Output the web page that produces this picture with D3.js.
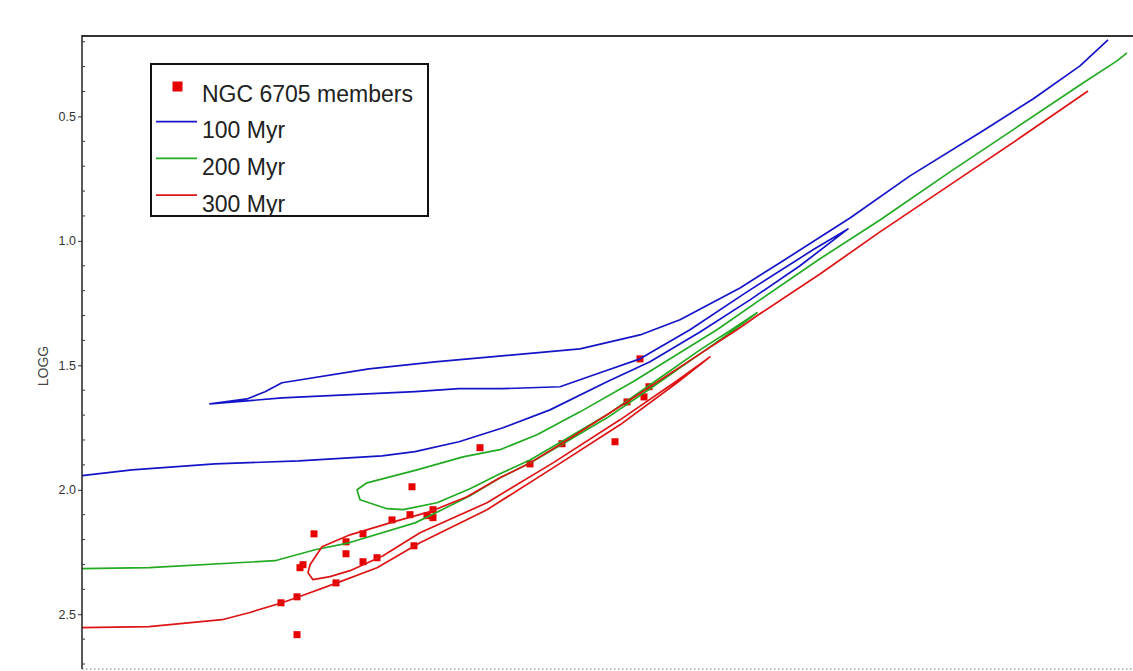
<!DOCTYPE html>
<html>
<head>
<meta charset="utf-8">
<script src="https://cdn.jsdelivr.net/npm/d3@7"></script>
<style>
  html, body { margin: 0; padding: 0; background: #fff; }
  svg { display: block; font-family: "Liberation Sans", Arial, Helvetica, sans-serif; }
</style>
</head>
<body>
<svg id="chart" width="1133" height="671"></svg>
<script>
// ---- data (Teff [K], log g) ----
const iso100 = [
  [5500,1.943],[5400,1.920],[5234,1.896],[5066,1.884],[4900,1.864],[4834,1.847],[4746,1.807],
  [4658,1.751],[4564,1.679],[4450,1.566],[4364,1.486],[4264,1.366],[4164,1.237],[4064,1.100],
  [3968,0.952],[4038,1.036],[4170,1.205],[4284,1.357],[4384,1.474],[4464,1.530],[4544,1.586],
  [4660,1.594],[4746,1.594],[4834,1.606],[5100,1.631],[5244,1.655],[5170,1.635],[5134,1.606],
  [5100,1.570],[4926,1.514],[4794,1.486],[4660,1.462],[4504,1.434],[4384,1.378],[4304,1.317],
  [4184,1.189],[4104,1.088],[3964,0.908],[3844,0.739],[3698,0.558],[3598,0.430],[3504,0.297],
  [3448,0.193]
];
const iso200 = [
  [5500,2.317],[5366,2.313],[5114,2.285],[5034,2.241],[4966,2.213],[4834,2.133],[4780,2.080],
  [4724,2.024],[4664,1.952],[4604,1.892],[4538,1.815],[4450,1.711],[4364,1.594],[4264,1.454],
  [4198,1.361],[4150,1.289],[4198,1.353],[4264,1.438],[4358,1.570],[4450,1.699],[4538,1.803],
  [4604,1.880],[4664,1.936],[4724,1.996],[4790,2.052],[4858,2.080],[4890,2.076],[4944,2.040],
  [4950,2.000],[4930,1.972],[4830,1.920],[4738,1.868],[4664,1.839],[4590,1.779],[4504,1.687],
  [4398,1.566],[4230,1.357],[4144,1.237],[4024,1.072],[3904,0.916],[3764,0.723],[3644,0.562],
  [3498,0.366],[3430,0.277],[3410,0.245]
];
const iso300 = [
  [5500,2.554],[5366,2.550],[5220,2.522],[5166,2.494],[5100,2.454],[5066,2.430],[4990,2.374],
  [4910,2.313],[4824,2.213],[4690,2.080],[4558,1.912],[4424,1.739],[4310,1.570],[4244,1.466],
  [4310,1.562],[4424,1.719],[4558,1.892],[4690,2.052],[4824,2.173],[4898,2.265],[4964,2.325],
  [5004,2.349],[5038,2.361],[5048,2.333],[5044,2.301],[5020,2.229],[4964,2.181],[4884,2.133],
  [4804,2.088],[4730,2.028],[4664,1.952],[4604,1.892],[4538,1.811],[4410,1.647],[4364,1.586],
  [4264,1.454],[4190,1.357],[4150,1.301],[4024,1.133],[3904,0.964],[3764,0.775],[3624,0.586],
  [3488,0.398]
];
const membersTeff = [4704,4840,4880,4844,4810,4798,4798,5036,4938,4972,4972,4938,4910,5064,
  5058,4836,4992,5070,5102,5070,4604,4540,4434,4410,4376,4366,4384];
const membersLogg = [1.831,1.988,2.121,2.100,2.104,2.080,2.112,2.177,2.177,2.209,2.257,2.289,
  2.273,2.313,2.301,2.225,2.374,2.430,2.454,2.582,1.896,1.815,1.807,1.647,1.627,1.586,1.474];
const yTicks = [0.5, 1.0, 1.5, 2.0, 2.5];
const yMinorTicks = [0.2,0.3,0.4,0.6,0.7,0.8,0.9,1.1,1.2,1.3,1.4,1.6,1.7,1.8,1.9,2.1,2.2,2.3,2.4,2.6,2.7];
const seriesNames = ["100 Myr", "200 Myr", "300 Myr"];
const memberLabel = "NGC 6705 members";
const yTitle = "LOGG";

(function () {
  // ---- layout ----
  const colors = ["#1414c8", "#22aa22", "#dd1414"];
  const pointColor = "#e60000";
  const mL = 82, mR = 1133, mT = 36, mB = 669;

  const svg = d3.select("#chart");
  svg.append("rect").attr("width", 1133).attr("height", 671).attr("fill", "#fff");

  const x = d3.scaleLinear().domain([5500, 3398]).range([mL, mR]);
  const y = d3.scaleLinear().domain([0.177, 2.72]).range([mT, mB]);

  // members (drawn beneath the isochrones)
  const sq = 7;
  svg.append("g").selectAll("rect").data(membersTeff.map((t, i) => [t, membersLogg[i]]))
    .join("rect")
    .attr("x", d => x(d[0]) - sq / 2).attr("y", d => y(d[1]) - sq / 2)
    .attr("width", sq).attr("height", sq).attr("fill", pointColor);

  // isochrones
  const line = d3.line().x(d => x(d[0])).y(d => y(d[1]));
  [iso100, iso200, iso300].forEach((iso, i) => {
    svg.append("path").datum(iso).attr("d", line)
      .attr("fill", "none").attr("stroke", colors[i]).attr("stroke-width", 1.7)
      .attr("stroke-linejoin", "round");
  });

  // frame: top line, bottom dotted
  svg.append("line").attr("x1", mL).attr("x2", mR).attr("y1", mT).attr("y2", mT)
    .attr("stroke", "#333").attr("stroke-width", 2);
  svg.append("line").attr("x1", mL).attr("x2", mR).attr("y1", mB).attr("y2", mB)
    .attr("stroke", "#777").attr("stroke-width", 1).attr("stroke-dasharray", "1.5,2.5");

  // y axis
  const yAxis = d3.axisLeft(y).tickValues(yTicks).tickFormat(d3.format(".1f")).tickSize(4).tickPadding(2);
  const gy = svg.append("g").attr("transform", `translate(${mL},0)`).call(yAxis);
  gy.select(".domain").remove();
  gy.selectAll(".tick line").attr("stroke", "#333");
  gy.selectAll(".tick text").attr("font-size", 12.5).attr("fill", "#333")
    .attr("font-family", "'Liberation Sans', Arial, sans-serif");
  svg.append("line").attr("x1", mL).attr("x2", mL).attr("y1", mT - 1).attr("y2", mB)
    .attr("stroke", "#222").attr("stroke-width", 1.5);
  svg.append("g").selectAll("line").data(yMinorTicks).join("line")
    .attr("x1", mL).attr("x2", mL + 3).attr("y1", d => y(d)).attr("y2", d => y(d))
    .attr("stroke", "#333").attr("stroke-width", 1);
  svg.append("text").attr("transform", "translate(48,366) rotate(-90)")
    .attr("text-anchor", "middle").attr("font-size", 14).attr("fill", "#444").text(yTitle);

  // legend
  const lg = svg.append("g");
  lg.append("rect").attr("x", 151).attr("y", 64).attr("width", 277).attr("height", 152)
    .attr("fill", "#fff").attr("stroke", "#111").attr("stroke-width", 2);
  lg.append("rect").attr("x", 172.5).attr("y", 81.5).attr("width", 10).attr("height", 10).attr("fill", pointColor);
  lg.append("text").attr("x", 202).attr("y", 102).attr("font-size", 23).attr("fill", "#222").text(memberLabel);
  seriesNames.forEach((name, i) => {
    const ly = 121.7 + i * 36.7;
    lg.append("line").attr("x1", 156).attr("x2", 197).attr("y1", ly).attr("y2", ly)
      .attr("stroke", colors[i]).attr("stroke-width", 1.7);
    lg.append("text").attr("x", 202).attr("y", 138.3 + i * 36.7).attr("font-size", 23)
      .attr("fill", "#222").text(name);
  });
})();
</script>
</body>
</html>
